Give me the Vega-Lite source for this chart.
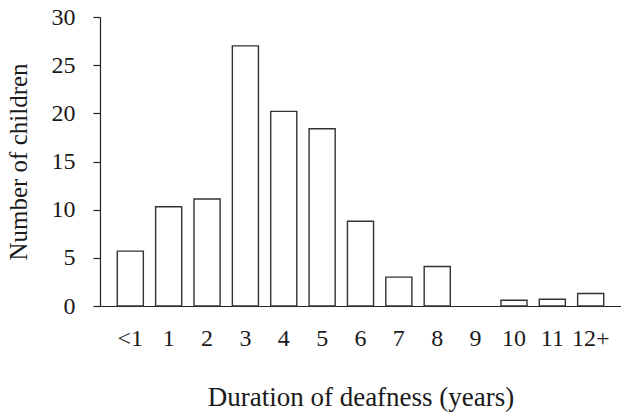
{
  "$schema": "https://vega.github.io/schema/vega-lite/v6.json",
  "autosize": {"type": "none"},
  "width": 521,
  "height": 289,
  "padding": {"left": 100, "top": 17, "right": 0, "bottom": 113},
  "background": "white",
  "config": {
    "view": {"stroke": null},
    "font": "Liberation Serif",
    "axis": {"labelFont": "Liberation Serif", "titleFont": "Liberation Serif", "labelColor": "#1a1a1a", "titleColor": "#1a1a1a", "titleFontWeight": "normal", "domainColor": "#222", "tickColor": "#222", "grid": false}
  },
  "data": {
    "values": [
      {"duration": "<1", "children": 5.7},
      {"duration": "1", "children": 10.3},
      {"duration": "2", "children": 11.1},
      {"duration": "3", "children": 27.0},
      {"duration": "4", "children": 20.2},
      {"duration": "5", "children": 18.4},
      {"duration": "6", "children": 8.8},
      {"duration": "7", "children": 3.0},
      {"duration": "8", "children": 4.1},
      {"duration": "9", "children": null},
      {"duration": "10", "children": 0.6},
      {"duration": "11", "children": 0.7},
      {"duration": "12+", "children": 1.3}
    ]
  },
  "mark": {"type": "bar", "fill": "white", "stroke": "#333", "strokeWidth": 1.4},
  "encoding": {
    "x": {
      "field": "duration", "type": "ordinal", "sort": null,
      "scale": {"domain": ["<1", "1", "2", "3", "4", "5", "6", "7", "8", "9", "10", "11", "12+"], "paddingInner": 0.32, "paddingOuter": 0.45},
      "axis": {"title": "Duration of deafness (years)", "labelAngle": 0, "ticks": false, "labelFontSize": 24, "titleFontSize": 27, "labelPadding": 20, "titlePadding": 34, "domainWidth": 1.2}
    },
    "y": {
      "field": "children", "type": "quantitative",
      "scale": {"domain": [0, 30], "nice": false},
      "axis": {"title": "Number of children", "values": [0, 5, 10, 15, 20, 25, 30], "tickSize": 7, "labelFontSize": 24, "titleFontSize": 25, "labelPadding": 18, "titlePadding": 20, "domainWidth": 1.2, "tickWidth": 1.2}
    }
  }
}
